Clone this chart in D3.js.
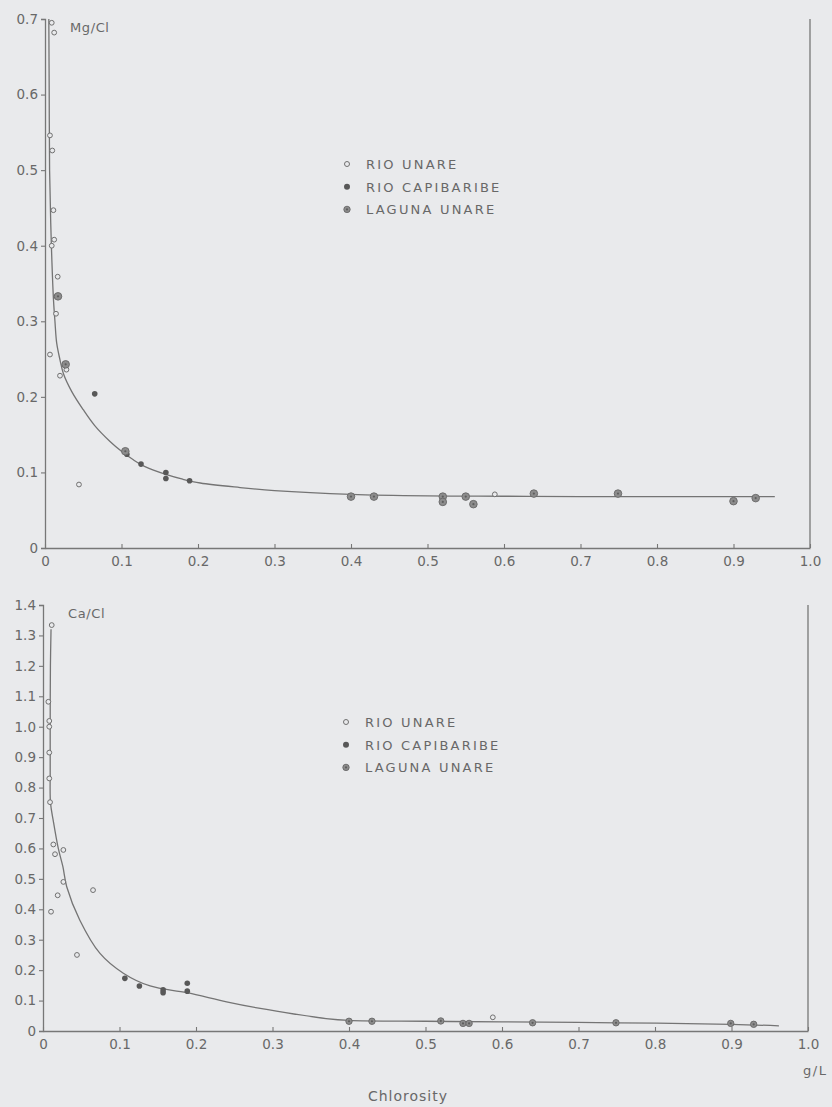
<!DOCTYPE html>
<html>
<head>
<meta charset="utf-8">
<script src="https://cdn.jsdelivr.net/npm/d3@7"></script>
<style>
  html, body { margin: 0; padding: 0; background: #e9eaec; }
  svg { display: block; }
</style>
</head>
<body>
<div id="chart"></div>
<script>
// Mg/Cl and Ca/Cl against chlorosity (g/L), two stacked panels

// ── data ──
const xTicks = [0, 0.1, 0.2, 0.3, 0.4, 0.5, 0.6, 0.7, 0.8, 0.9, 1.0];
const xTickLabels = ["0", "0.1", "0.2", "0.3", "0.4", "0.5", "0.6", "0.7", "0.8", "0.9", "1.0"];
const mgTicks = [0, 0.1, 0.2, 0.3, 0.4, 0.5, 0.6, 0.7];
const mgTickLabels = ["0", "0.1", "0.2", "0.3", "0.4", "0.5", "0.6", "0.7"];
const caTicks = [0, 0.1, 0.2, 0.3, 0.4, 0.5, 0.6, 0.7, 0.8, 0.9, 1.0, 1.1, 1.2, 1.3, 1.4];
const caTickLabels = ["0", "0.1", "0.2", "0.3", "0.4", "0.5", "0.6", "0.7", "0.8", "0.9", "1.0", "1.1", "1.2", "1.3", "1.4"];
const seriesNames = ["RIO UNARE", "RIO CAPIBARIBE", "LAGUNA UNARE"];

// Mg/Cl panel
const mgRioUnare = [
  [0.0088, 0.695], [0.012, 0.682], [0.0065, 0.546], [0.0095, 0.526], [0.011, 0.447],
  [0.012, 0.408], [0.0088, 0.400], [0.0166, 0.359], [0.015, 0.333], [0.0144, 0.310],
  [0.0065, 0.256], [0.0196, 0.228], [0.028, 0.236], [0.0444, 0.084], [0.588, 0.071],
];
const mgCapibaribe = [
  [0.065, 0.204], [0.107, 0.124], [0.1255, 0.111], [0.158, 0.100], [0.158, 0.092], [0.189, 0.089],
];
const mgLaguna = [
  [0.017, 0.333], [0.027, 0.243], [0.105, 0.128],
  [0.40, 0.068], [0.43, 0.068], [0.52, 0.068], [0.52, 0.061], [0.55, 0.068], [0.56, 0.058],
  [0.639, 0.072], [0.749, 0.072], [0.90, 0.062], [0.929, 0.066],
];
const mgCurve = [
  [0.005, 0.70], [0.0055, 0.60], [0.006, 0.50], [0.0075, 0.43], [0.009, 0.38], [0.011, 0.33],
  [0.013, 0.30], [0.0153, 0.271], [0.0196, 0.249], [0.024, 0.231], [0.035, 0.207], [0.05, 0.183],
  [0.065, 0.162], [0.085, 0.141], [0.10, 0.128], [0.115, 0.117], [0.13, 0.108], [0.159, 0.097],
  [0.18, 0.091], [0.203, 0.086], [0.255, 0.080], [0.30, 0.076], [0.40, 0.071], [0.50, 0.069],
  [0.60, 0.0685], [0.70, 0.068], [0.954, 0.068],
];

// Ca/Cl panel
const caRioUnare = [
  [0.0114, 1.334], [0.007, 1.082], [0.0082, 1.019], [0.0082, 1.0], [0.0082, 0.915], [0.0082, 0.83],
  [0.0092, 0.752], [0.0135, 0.613], [0.0266, 0.595], [0.0157, 0.581], [0.0266, 0.49],
  [0.0192, 0.446], [0.0105, 0.392], [0.0654, 0.463], [0.0444, 0.25], [0.588, 0.045],
];
const caCapibaribe = [
  [0.107, 0.173], [0.126, 0.148], [0.157, 0.135], [0.157, 0.126], [0.1886, 0.157], [0.1886, 0.131],
];
const caLaguna = [
  [0.40, 0.032], [0.43, 0.032], [0.52, 0.033], [0.549, 0.025], [0.557, 0.025],
  [0.64, 0.027], [0.749, 0.027], [0.899, 0.025], [0.929, 0.022],
];
const caCurve = [
  [0.0105, 1.32], [0.0097, 1.2], [0.0094, 1.0], [0.0094, 0.85], [0.0098, 0.75], [0.0135, 0.69],
  [0.02, 0.60], [0.026, 0.54], [0.031, 0.474], [0.048, 0.365], [0.0745, 0.255], [0.105, 0.19],
  [0.14, 0.148], [0.188, 0.126], [0.24, 0.096], [0.284, 0.074], [0.33, 0.055], [0.37, 0.041],
  [0.40, 0.035], [0.50, 0.032], [0.60, 0.030], [0.75, 0.027], [0.90, 0.022], [0.962, 0.017],
];

// ── drawing ──
const W = 832, H = 1107;
const INK = "#686868", LINE = "#777777", BG = "#e9eaec";
const FONT = "'DejaVu Sans', Arial, sans-serif";

const svg = d3.select("#chart").append("svg")
  .attr("width", W).attr("height", H)
  .attr("viewBox", `0 0 ${W} ${H}`);
svg.append("rect").attr("width", W).attr("height", H).attr("fill", BG);

const marker = {
  open: (g, x, y, r) => g.append("circle").attr("cx", x).attr("cy", y).attr("r", r || 2.4)
    .attr("fill", BG).attr("stroke", "#707070").attr("stroke-width", 1),
  filled: (g, x, y, r) => g.append("circle").attr("cx", x).attr("cy", y).attr("r", r || 2.8)
    .attr("fill", "#585858"),
  laguna: (g, x, y, r) => {
    g.append("circle").attr("cx", x).attr("cy", y).attr("r", r || 3.4)
      .attr("fill", "#8c8c8c").attr("stroke", "#686868").attr("stroke-width", 0.9);
    g.append("circle").attr("cx", x).attr("cy", y).attr("r", 1.1).attr("fill", "#5e5e5e");
  },
};

function panel(o) {
  const x = d3.scaleLinear().domain([0, 1]).range([o.x0, o.x1]);
  const y = d3.scaleLinear().domain([0, o.yMax]).range([o.y0, o.y1]);
  const g = svg.append("g");

  // x axis, ticks pointing inward
  const xa = g.append("g").attr("transform", `translate(0,${o.y0})`)
    .call(d3.axisBottom(x).tickValues(xTicks).tickFormat((d, i) => xTickLabels[i])
      .tickSizeInner(-4).tickSizeOuter(0).tickPadding(8));
  // y axis, ticks pointing outward
  const ya = g.append("g").attr("transform", `translate(${o.x0},0)`)
    .call(d3.axisLeft(y).tickValues(o.yTicks).tickFormat((d, i) => o.yLabels[i])
      .tickSize(4).tickPadding(3));
  [xa, ya].forEach(a => {
    a.select(".domain").attr("stroke", LINE).attr("stroke-width", 1.3);
    a.selectAll(".tick line").attr("stroke", LINE).attr("stroke-width", 1.1);
    a.selectAll(".tick text").attr("fill", INK).style("font", `13.5px ${FONT}`);
  });
  // right frame line
  g.append("line")
    .attr("x1", o.x1).attr("x2", o.x1).attr("y1", y(o.yMax)).attr("y2", o.y0)
    .attr("stroke", LINE).attr("stroke-width", 1.3);

  // ratio label
  g.append("text").attr("x", o.x0 + 25).attr("y", y(o.yMax) + 13)
    .attr("fill", INK).style("font", `13px ${FONT}`).style("letter-spacing", "0.6px")
    .text(o.title);

  // fitted curve
  g.append("path")
    .datum(o.curve)
    .attr("d", d3.line().x(d => x(d[0])).y(d => y(d[1])).curve(d3.curveCatmullRom.alpha(0.5)))
    .attr("fill", "none").attr("stroke", "#747474").attr("stroke-width", 1.3);

  // points
  o.unare.forEach(d => marker.open(g, x(d[0]), y(d[1])));
  o.capi.forEach(d => marker.filled(g, x(d[0]), y(d[1])));
  o.laguna.forEach(d => marker.laguna(g, x(d[0]), y(d[1]), o.lagR));

  // legend
  const kinds = ["open", "filled", "laguna"];
  const legR = { open: 2.5, filled: 3, laguna: 3.2 };
  seriesNames.forEach((name, i) => {
    const ly = o.legY + i * 22.7;
    marker[kinds[i]](g, o.legX, ly, legR[kinds[i]]);
    g.append("text").attr("x", o.legX + 19).attr("y", ly + 5)
      .attr("fill", INK).style("font", `13px ${FONT}`).style("letter-spacing", "2.2px")
      .text(name);
  });
}

panel({
  x0: 45, x1: 810, y0: 548, y1: 19, yMax: 0.7,
  yTicks: mgTicks, yLabels: mgTickLabels, title: "Mg/Cl",
  curve: mgCurve, unare: mgRioUnare, capi: mgCapibaribe, laguna: mgLaguna, lagR: 3.8,
  legX: 347, legY: 164,
});

panel({
  x0: 43, x1: 808, y0: 1031, y1: 605, yMax: 1.4,
  yTicks: caTicks, yLabels: caTickLabels, title: "Ca/Cl",
  curve: caCurve, unare: caRioUnare, capi: caCapibaribe, laguna: caLaguna, lagR: 3.2,
  legX: 346, legY: 722,
});

// unit + axis title
svg.append("text").attr("x", 803).attr("y", 1075)
  .attr("fill", INK).style("font", `13px ${FONT}`).style("letter-spacing", "1.5px")
  .text("g/L");
svg.append("text").attr("x", 408).attr("y", 1101).attr("text-anchor", "middle")
  .attr("fill", INK).style("font", `14px ${FONT}`).style("letter-spacing", "1px")
  .text("Chlorosity");
</script>
</body>
</html>
